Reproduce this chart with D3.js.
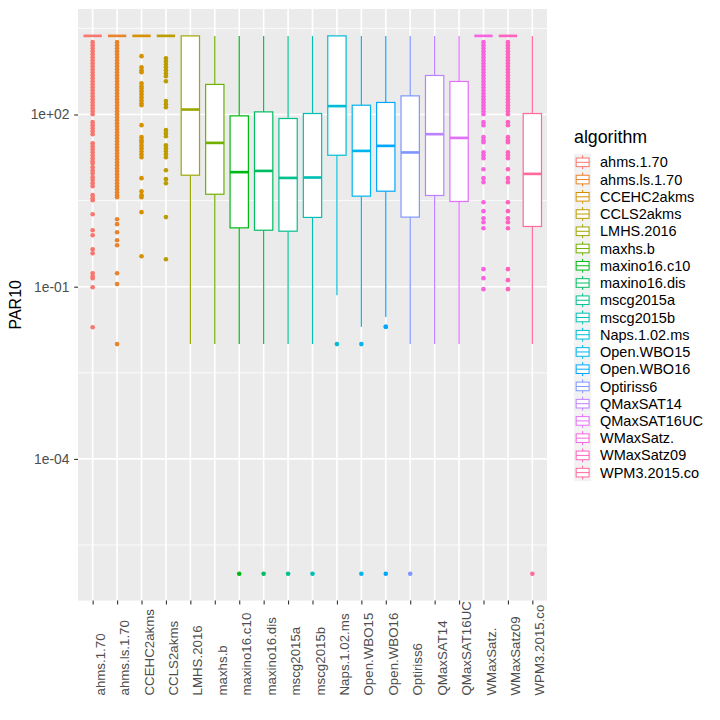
<!DOCTYPE html>
<html>
<head>
<meta charset="utf-8">
<script src="https://cdn.jsdelivr.net/npm/d3@7"></script>
<style>
  html, body { margin: 0; padding: 0; background: #fff; }
  svg { display: block; font-family: "Liberation Sans", Arial, sans-serif; }
</style>
</head>
<body>
<svg id="chart" width="720" height="720"></svg>
<script>
// ---------------- DATA ----------------
const algorithms = ["ahms.1.70","ahms.ls.1.70","CCEHC2akms","CCLS2akms","LMHS.2016","maxhs.b",
  "maxino16.c10","maxino16.dis","mscg2015a","mscg2015b","Naps.1.02.ms","Open.WBO15","Open.WBO16",
  "Optiriss6","QMaxSAT14","QMaxSAT16UC","WMaxSatz.","WMaxSatz09","WPM3.2015.co"];

const lowerWhisker = [2340,2340,2340,2340,0.01,0.01,0.01,0.01,0.01,0.01,0.071,0.02,0.0298,0.01,0.01,0.01,2340,2340,0.01];
const q1Values     = [2340,2340,2340,2340,8.76,4.08,1.06,0.964,0.927,1.61,19.5,3.78,4.61,1.63,3.88,3.05,2340,2340,1.12];
const medianValues = [2340,2340,2340,2340,122,32,9.9,10.4,7.85,7.98,140,23.2,28.4,21.8,45.4,39.1,2340,2340,9.23];
const q3Values     = [2340,2340,2340,2340,2340,334,94.6,111,85.1,104,2340,145,162,211,478,376,2340,2340,104];
const upperWhisker = [2340,2340,2340,2340,2340,2340,2340,2340,2340,2340,2340,2340,2340,2340,2340,2340,2340,2340,2340];

const outliers = [
  [1820,1611,1429,1267,1122,995,883,783,694,615,546,484,429,380,337,299,265,235,208,185,164,145,129,114,101,
   73.5,65.2,57.8,51.2,45.4,31.6,28.1,24.9,22.0,19.5,17.3,15.4,14.2,12.1,10.7,9.5,8.1,7.2,6.35,5.63,
   3.93,3.48,3.21,1.83,0.964,0.789,0.45,0.383,0.172,0.152,0.141,0.098,0.0197],
  [1820,1611,1429,1267,1122,995,883,783,694,615,546,484,429,380,337,299,265,235,208,185,164,145,129,114,101,
   89.6,79.4,70.4,62.4,55.3,49.1,43.5,38.6,34.2,30.3,26.9,23.9,21.1,18.8,16.6,14.7,13.1,11.6,10.3,9.12,
   8.09,7.16,6.35,5.63,5.0,4.43,3.93,3.62,1.5,1.23,0.89,0.646,0.528,0.172,0.111,0.01],
  [1038,667,592,546,351,311,287,255,226,200,177,157,145,65.2,40.3,35.7,32.9,29.2,25.9,22.9,20.3,18.0,
   7.78,4.61,3.93,3.62,1.99,0.34],
  [957,849,752,667,592,524,465,380,171,151,134,53.3,47.2,41.9,29.2,25.9,22.9,20.3,18.0,10.7,7.47,6.35,1.63,0.301],
  [],
  [],
  [1e-6],
  [1e-6],
  [1e-6],
  [1e-6],
  [0.01],
  [0.01,1e-6],
  [0.02,0.02,1e-6],
  [1e-6],
  [],
  [],
  [1820,1611,1429,1267,1122,995,883,783,694,615,546,484,429,380,337,299,265,235,208,185,164,145,129,114,101,
   73.5,65.2,40.3,35.7,32.9,22.0,19.5,17.3,11.1,7.78,6.62,2.96,2.07,1.56,1.33,1.04,0.202,0.141,0.0906],
  [1820,1611,1429,1267,1122,995,883,783,694,615,546,484,429,380,337,299,265,235,208,185,164,145,129,114,101,
   73.5,65.2,40.3,35.7,32.9,22.0,19.5,17.3,11.1,7.78,6.62,2.96,2.07,1.56,1.33,1.04,0.202,0.13,0.0906],
  [1e-6]
];

const yTickValues = [1e-4, 1e-1, 1e2];
const yTickLabels = ["1e-04", "1e-01", "1e+02"];
const yTitle = "PAR10";
const legendTitle = "algorithm";

// ---------------- PALETTE (ggplot2 hue_pal, polar LUV) ----------------
function hclR(h, c, l) {
  const WY = 100, Wu = 0.1978398, Wv = 0.4683363;
  const hr = h * Math.PI / 180;
  const U = c * Math.cos(hr), V = c * Math.sin(hr);
  const Y = WY * (l > 7.999592 ? Math.pow((l + 16) / 116, 3) : l / 903.3);
  const u = U / (13 * l) + Wu, v = V / (13 * l) + Wv;
  const X = 9.0 * Y * u / (4 * v);
  const Z = -X / 3 - 5 * Y + 3 * Y / v;
  const g = t => { t = t / WY; t = t > 0.00304 ? 1.055 * Math.pow(t, 1 / 2.4) - 0.055 : 12.92 * t; return Math.round(255 * Math.max(0, Math.min(1, t))); };
  return d3.rgb(g(3.240479 * X - 1.537150 * Y - 0.498535 * Z),
                g(-0.969256 * X + 1.875992 * Y + 0.041556 * Z),
                g(0.055648 * X - 0.204043 * Y + 1.057311 * Z)).formatHex();
}
const n = algorithms.length;
const colors = algorithms.map((_, i) => hclR(15 + i * 360 / n, 100, 65));
const color = d3.scaleOrdinal().domain(algorithms).range(colors);

// ---------------- LAYOUT ----------------
const svg = d3.select("#chart");
const panel = { left: 78, right: 547, top: 9, bottom: 600.6 };

const allVals = [].concat(lowerWhisker, upperWhisker, ...outliers);
const lmin = Math.log10(d3.min(allVals)), lmax = Math.log10(d3.max(allVals));
const pad = (lmax - lmin) * 0.05;
const y = d3.scaleLog().domain([Math.pow(10, lmin - pad), Math.pow(10, lmax + pad)])
  .range([panel.bottom, panel.top]);
const x = d3.scalePoint().domain(algorithms).range([panel.left, panel.right]).padding(0.6);
const step = x.step();
const boxW = step * 0.75;

// panel background
svg.append("rect").attr("x", panel.left).attr("y", panel.top)
  .attr("width", panel.right - panel.left).attr("height", panel.bottom - panel.top)
  .attr("fill", "#EBEBEB");

// minor gridlines (geometric midpoints of major breaks)
const logStep = Math.log10(yTickValues[1]) - Math.log10(yTickValues[0]);
const majorExt = [Math.log10(yTickValues[0]) - logStep, ...yTickValues.map(Math.log10), Math.log10(yTickValues[yTickValues.length - 1]) + logStep];
const minor = [];
for (let i = 0; i < majorExt.length - 1; i++) minor.push(Math.pow(10, (majorExt[i] + majorExt[i + 1]) / 2));
const [d0, d1] = y.domain();
svg.append("g").selectAll("line").data(minor.filter(v => v >= d0 && v <= d1)).join("line")
  .attr("x1", panel.left).attr("x2", panel.right)
  .attr("y1", d => y(d)).attr("y2", d => y(d))
  .attr("stroke", "#fff").attr("stroke-width", 0.8);
svg.append("g").selectAll("line").data(yTickValues).join("line")
  .attr("x1", panel.left).attr("x2", panel.right)
  .attr("y1", d => y(d)).attr("y2", d => y(d))
  .attr("stroke", "#fff").attr("stroke-width", 1.6);
svg.append("g").selectAll("line").data(algorithms).join("line")
  .attr("x1", d => x(d)).attr("x2", d => x(d))
  .attr("y1", panel.top).attr("y2", panel.bottom)
  .attr("stroke", "#fff").attr("stroke-width", 1.6);

// boxplots
const lw = 1.2;
const boxes = svg.append("g").selectAll("g").data(algorithms).join("g");
boxes.each(function (name, i) {
  const g = d3.select(this);
  const cx = x(name), col = color(name);
  g.selectAll("circle").data(outliers[i]).join("circle")
    .attr("cx", cx).attr("cy", d => y(d)).attr("r", 2.3).attr("fill", col);
  g.append("line").attr("x1", cx).attr("x2", cx)
    .attr("y1", y(q3Values[i])).attr("y2", y(upperWhisker[i]))
    .attr("stroke", col).attr("stroke-width", lw);
  g.append("line").attr("x1", cx).attr("x2", cx)
    .attr("y1", y(q1Values[i])).attr("y2", y(lowerWhisker[i]))
    .attr("stroke", col).attr("stroke-width", lw);
  g.append("rect").attr("x", cx - boxW / 2).attr("width", boxW)
    .attr("y", y(q3Values[i])).attr("height", Math.max(0, y(q1Values[i]) - y(q3Values[i])))
    .attr("fill", "#fff").attr("stroke", col).attr("stroke-width", lw);
  g.append("line").attr("x1", cx - boxW / 2).attr("x2", cx + boxW / 2)
    .attr("y1", y(medianValues[i])).attr("y2", y(medianValues[i]))
    .attr("stroke", col).attr("stroke-width", lw * 2.2);
});

// axes
const yAxis = svg.append("g").attr("transform", `translate(${panel.left},0)`)
  .call(d3.axisLeft(y).tickValues(yTickValues).tickFormat((d, i) => yTickLabels[i]).tickSize(3.8).tickPadding(4.8));
yAxis.select(".domain").remove();
yAxis.selectAll(".tick line").attr("stroke", "#333333").attr("stroke-width", 1.1);
yAxis.selectAll(".tick text").attr("fill", "#4D4D4D").style("font-size", "13.8px")
  .style("font-family", "Liberation Sans, Arial, sans-serif");

const xAxis = svg.append("g").attr("transform", `translate(0,${panel.bottom})`)
  .call(d3.axisBottom(x).tickSize(3.8));
xAxis.select(".domain").remove();
xAxis.selectAll(".tick line").attr("stroke", "#333333").attr("stroke-width", 1.1);
xAxis.selectAll(".tick text")
  .attr("x", 0).attr("y", 0).attr("dy", null)
  .attr("text-anchor", "start")
  .attr("transform", `translate(11.6,${695.5 - panel.bottom}) rotate(-90)`)
  .attr("fill", "#4D4D4D").style("font-size", "13.3px")
  .style("font-family", "Liberation Sans, Arial, sans-serif");

// y title
svg.append("text")
  .attr("transform", `translate(21,${(panel.top + panel.bottom) / 2}) rotate(-90)`)
  .attr("text-anchor", "middle").attr("fill", "#000")
  .style("font-size", "16px").text(yTitle);

// legend
const leg = svg.append("g");
const keyX = 574, keyS = 17.24, row0 = 153.7;
leg.append("text").attr("x", keyX).attr("y", 143).attr("fill", "#000")
  .style("font-size", "17.8px").text(legendTitle);
const items = leg.selectAll("g.item").data(algorithms).join("g").attr("class", "item")
  .attr("transform", (d, i) => `translate(${keyX},${row0 + i * keyS})`);
items.append("rect").attr("width", keyS).attr("height", keyS).attr("fill", "#F2F2F2");
items.each(function (name) {
  const g = d3.select(this), col = color(name), s = keyS;
  g.append("line").attr("x1", s / 2).attr("x2", s / 2).attr("y1", s * 0.1).attr("y2", s * 0.25)
    .attr("stroke", col).attr("stroke-width", 1);
  g.append("line").attr("x1", s / 2).attr("x2", s / 2).attr("y1", s * 0.75).attr("y2", s * 0.9)
    .attr("stroke", col).attr("stroke-width", 1);
  g.append("rect").attr("x", s * 0.125).attr("y", s * 0.25).attr("width", s * 0.75).attr("height", s * 0.5)
    .attr("fill", "#fff").attr("stroke", col).attr("stroke-width", 1);
  g.append("line").attr("x1", s * 0.125).attr("x2", s * 0.875).attr("y1", s / 2).attr("y2", s / 2)
    .attr("stroke", col).attr("stroke-width", 1);
});
items.append("text").attr("x", 600 - keyX).attr("y", keyS / 2).attr("dy", "0.35em")
  .attr("fill", "#000").style("font-size", "14.5px").text(d => d);
</script>
</body>
</html>
